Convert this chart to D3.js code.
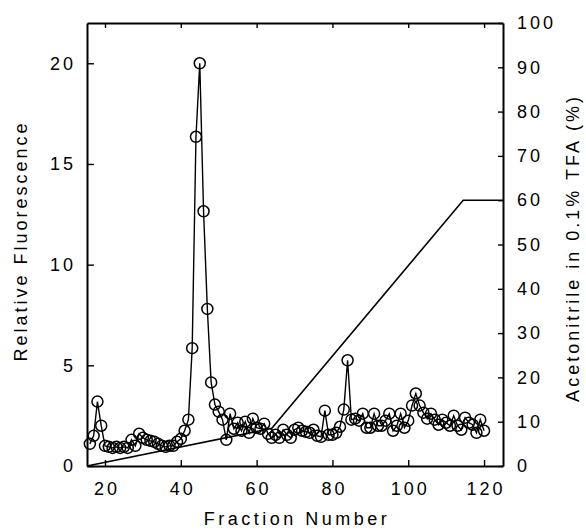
<!DOCTYPE html>
<html><head><meta charset="utf-8">
<script src="https://cdn.jsdelivr.net/npm/d3@7/dist/d3.min.js"></script>
<style>
body{margin:0;background:#fff}
text{font-family:"Liberation Sans",Arial,Helvetica,sans-serif;fill:#000}
</style></head>
<body><svg id="c" width="586" height="531"></svg>
<script>
// Fraction numbers (x) and relative fluorescence (left axis)
const fractions = [16,17,18,19,20,21,22,23,24,25,26,27,28,29,30,31,32,33,34,35,36,37,38,39,40,
  41,42,43,44,45,46,47,48,49,50,51,52,53,54,55,56,57,58,59,60,61,62,63,64,65,66,67,68,69,70,
  71,72,73,74,75,76,77,78,79,80,81,82,83,84,85,86,87,88,89,90,91,92,93,94,95,96,97,98,99,100,
  101,102,103,104,105,106,107,108,109,110,111,112,113,114,115,116,117,118,119,120];
const fluorescence = [1.1,1.5,3.2,2.0,1.0,0.95,0.9,0.95,0.9,0.95,0.9,1.3,1.0,1.6,1.4,1.3,1.25,1.2,1.1,1.0,0.95,1.0,1.0,1.2,1.35,
  1.75,2.3,5.85,16.35,20.0,12.65,7.8,4.15,3.05,2.7,2.3,1.3,2.6,1.85,2.15,1.75,2.2,1.65,2.35,1.9,
  1.85,2.1,1.6,1.4,1.55,1.4,1.8,1.55,1.4,1.8,1.9,1.75,1.7,1.65,1.8,1.5,1.45,2.75,1.55,1.55,
  1.65,1.95,2.8,5.25,2.3,2.35,2.25,2.6,1.9,1.9,2.6,2.0,2.0,2.25,2.6,1.75,2.0,2.6,1.9,2.25,
  3.0,3.6,3.0,2.65,2.35,2.6,2.3,2.05,2.3,2.15,2.0,2.5,2.0,1.8,2.4,2.15,2.05,1.65,2.3,1.75];

// Acetonitrile gradient (right axis)
const gradientFraction = [15.25, 64, 114.5, 125];
const gradientPercent = [0, 8.5, 60, 60];

// Tick values
const xTicks = [20,40,60,80,100,120];
const yTicks = [0,5,10,15,20];
const y2Ticks = [0,10,20,30,40,50,60,70,80,90,100];

const L=87, R=503, T=23, B=466;
const svg = d3.select("#c");
const x = d3.scaleLinear().domain([15.25,125]).range([L,R]);
const y = d3.scaleLinear().domain([0,22]).range([B,T]);
const y2 = d3.scaleLinear().domain([0,100]).range([B,T]);

function styleAxis(g){
  g.select(".domain").attr("stroke","#000").attr("stroke-width",2);
  g.selectAll(".tick line").attr("stroke","#000").attr("stroke-width",1.4);
  g.selectAll("text").attr("font-size",18).style("letter-spacing","3px")
   .attr("font-family",null);
}

svg.append("g").attr("transform",`translate(0,${B})`)
  .call(d3.axisBottom(x).tickValues(xTicks).tickSizeInner(-6).tickSizeOuter(0).tickPadding(16.5))
  .call(styleAxis).call(g=>g.selectAll("text").attr("dx","1.5"));
svg.append("g").attr("transform",`translate(0,${T})`)
  .call(d3.axisTop(x).tickValues(xTicks).tickSizeInner(-5).tickSizeOuter(0).tickFormat(""))
  .call(styleAxis);
svg.append("g").attr("transform",`translate(${L},0)`)
  .call(d3.axisLeft(y).tickValues(yTicks).tickSizeInner(-7).tickSizeOuter(0).tickPadding(11))
  .call(styleAxis);
svg.append("g").attr("transform",`translate(${R},0)`)
  .call(d3.axisRight(y2).tickValues(y2Ticks).tickSizeInner(-5).tickSizeOuter(0).tickPadding(14))
  .call(styleAxis);

// gradient line
const grad = gradientFraction.map((f,i)=>({f, p:gradientPercent[i]}));
svg.append("path").datum(grad)
  .attr("d", d3.line().x(d=>x(d.f)).y(d=>y2(d.p)))
  .attr("fill","none").attr("stroke","#000").attr("stroke-width",1.6);

// fluorescence
const pts = fractions.map((f,i)=>({f, v:fluorescence[i]}));
svg.append("path").datum(pts)
  .attr("d", d3.line().x(d=>x(d.f)).y(d=>y(d.v)))
  .attr("fill","none").attr("stroke","#000").attr("stroke-width",1.4);
svg.append("g").selectAll("circle").data(pts).join("circle")
  .attr("cx",d=>x(d.f)).attr("cy",d=>y(d.v)).attr("r",5.5)
  .attr("fill","none").attr("stroke","#000").attr("stroke-width",1.5);

// axis titles
svg.append("text").attr("x",297).attr("y",525).attr("text-anchor","middle")
  .attr("font-size",18).style("letter-spacing","3.5px").text("Fraction Number");
svg.append("text").attr("transform","translate(27,241) rotate(-90)").attr("text-anchor","middle")
  .attr("font-size",18).style("letter-spacing","3px").text("Relative Fluorescence");
svg.append("text").attr("transform","translate(579,248) rotate(-90)").attr("text-anchor","middle")
  .attr("font-size",18).style("letter-spacing","3px").text("Acetonitrile in 0.1% TFA (%)");
</script>
</body></html>
